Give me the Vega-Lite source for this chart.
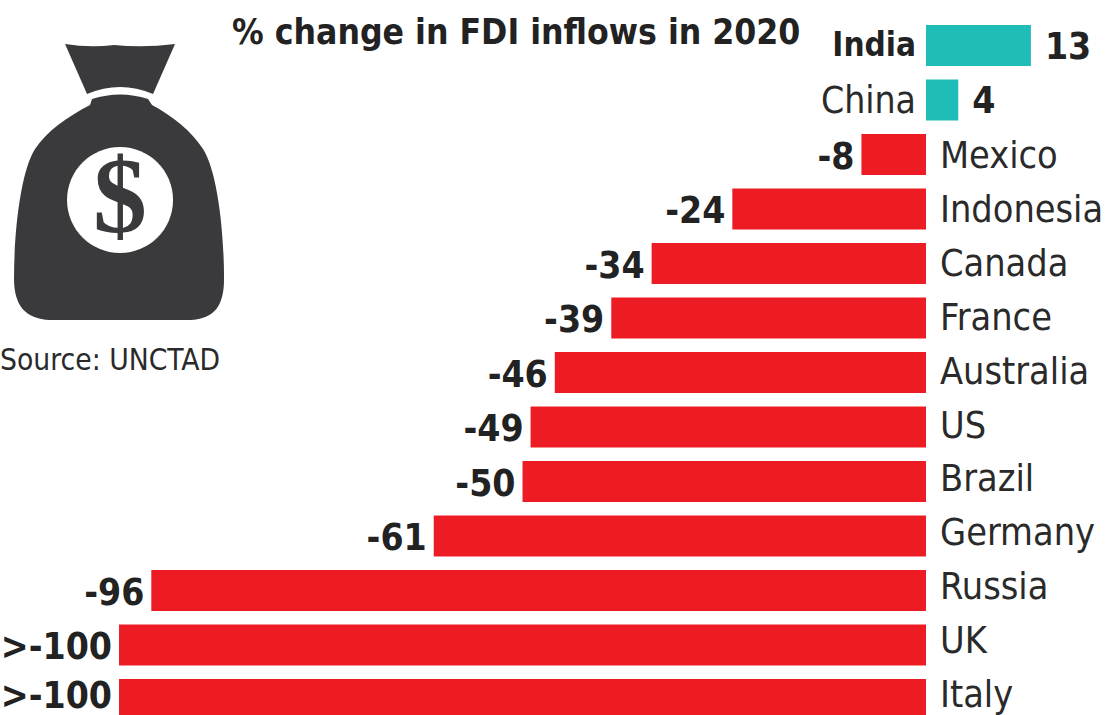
{
  "$schema": "https://vega.github.io/schema/vega-lite/v6.json",
  "width": 1112,
  "height": 715,
  "padding": 0,
  "autosize": {"type": "fit", "contains": "padding"},
  "background": "#ffffff",
  "config": {"view": {"stroke": null}},
  "resolve": {"scale": {"y": "independent"}},
  "datasets": {
    "fdi": [
      {"country": "India", "change": 13, "label": "13", "direction": "up"},
      {"country": "China", "change": 4, "label": "4", "direction": "up"},
      {"country": "Mexico", "change": -8, "label": "-8", "direction": "down"},
      {"country": "Indonesia", "change": -24, "label": "-24", "direction": "down"},
      {"country": "Canada", "change": -34, "label": "-34", "direction": "down"},
      {"country": "France", "change": -39, "label": "-39", "direction": "down"},
      {"country": "Australia", "change": -46, "label": "-46", "direction": "down"},
      {"country": "US", "change": -49, "label": "-49", "direction": "down"},
      {"country": "Brazil", "change": -50, "label": "-50", "direction": "down"},
      {"country": "Germany", "change": -61, "label": "-61", "direction": "down"},
      {"country": "Russia", "change": -96, "label": "-96", "direction": "down"},
      {"country": "UK", "change": -100, "label": ">-100", "direction": "down"},
      {"country": "Italy", "change": -100, "label": ">-100", "direction": "down"}
    ]
  },
  "data": {"name": "fdi"},
  "encoding": {
    "y": {
      "field": "country",
      "type": "nominal",
      "axis": null,
      "sort": null,
      "scale": {
        "domain": ["India", "China", "Mexico", "Indonesia", "Canada", "France", "Australia", "US", "Brazil", "Germany", "Russia", "UK", "Italy"],
        "range": [18.25, 726.75],
        "paddingInner": 0.245,
        "paddingOuter": 0.1225
      }
    }
  },
  "layer": [
    {
      "mark": {"type": "bar"},
      "encoding": {
        "x": {"field": "change", "type": "quantitative", "axis": null, "scale": {"domain": [-114.75, 23.05], "nice": false, "zero": false}},
        "color": {"field": "direction", "type": "nominal", "legend": null, "scale": {"domain": ["up", "down"], "range": ["#1fbcb8", "#ed1c24"]}}
      }
    },
    {
      "transform": [{"filter": "datum.direction === 'down' && datum.country !== 'Italy'"}],
      "mark": {"type": "text", "align": "right", "baseline": "middle", "dx": -7, "dy": 3, "font": "DejaVu Sans Condensed", "fontWeight": "bold", "fontSize": 37, "fill": "#222222"},
      "encoding": {
        "x": {"field": "change", "type": "quantitative"},
        "text": {"field": "label"}
      }
    },
    {
      "transform": [{"filter": "datum.country === 'Italy'"}],
      "mark": {"type": "text", "align": "right", "baseline": "middle", "dx": -7, "dy": -3, "font": "DejaVu Sans Condensed", "fontWeight": "bold", "fontSize": 37, "fill": "#222222"},
      "encoding": {
        "x": {"field": "change", "type": "quantitative"},
        "text": {"field": "label"}
      }
    },
    {
      "transform": [{"filter": "datum.direction === 'up'"}],
      "mark": {"type": "text", "align": "left", "baseline": "middle", "dx": 14, "dy": 2, "font": "DejaVu Sans Condensed", "fontWeight": "bold", "fontSize": 37, "fill": "#222222"},
      "encoding": {
        "x": {"field": "change", "type": "quantitative"},
        "text": {"field": "label"}
      }
    },
    {
      "transform": [{"filter": "datum.direction === 'down'"}],
      "mark": {"type": "text", "align": "left", "baseline": "middle", "dx": 14, "font": "DejaVu Sans Condensed", "fontSize": 37.5, "fill": "#2a2a2a"},
      "encoding": {
        "x": {"datum": 0},
        "y": {
          "field": "country",
          "type": "nominal",
          "axis": null,
          "sort": null,
          "scale": {
            "domain": ["India", "China", "Mexico", "Indonesia", "Canada", "France", "Australia", "US", "Brazil", "Germany", "Russia", "UK", "Italy"],
            "range": [22.25, 722.95],
            "paddingInner": 0.245,
            "paddingOuter": 0.1225
          }
        },
        "text": {"field": "country"}
      }
    },
    {
      "transform": [{"filter": "datum.country === 'China'"}],
      "mark": {"type": "text", "align": "right", "baseline": "middle", "dx": -10, "dy": 2, "font": "DejaVu Sans Condensed", "fontSize": 37, "fill": "#2a2a2a"},
      "encoding": {
        "x": {"datum": 0},
        "text": {"field": "country"}
      }
    },
    {
      "transform": [{"filter": "datum.country === 'India'"}],
      "mark": {"type": "text", "align": "right", "baseline": "middle", "dx": -10, "font": "DejaVu Sans Condensed", "fontWeight": "bold", "fontSize": 33, "fill": "#222222"},
      "encoding": {
        "x": {"datum": 0},
        "text": {"field": "country"}
      }
    },
    {
      "data": {"values": [{"country": "India", "at": -86, "caption": "% change in FDI inflows in 2020"}]},
      "mark": {"type": "text", "align": "left", "baseline": "middle", "dy": -13, "font": "DejaVu Sans Condensed", "fontWeight": "bold", "fontSize": 35.2, "fill": "#222222"},
      "encoding": {
        "x": {"field": "at", "type": "quantitative"},
        "text": {"field": "caption"}
      }
    },
    {
      "data": {"values": [{"country": "Australia", "at": -114.75, "caption": "Source: UNCTAD"}]},
      "mark": {"type": "text", "align": "left", "baseline": "middle", "dy": -12, "font": "DejaVu Sans Condensed", "fontSize": 29.7, "fill": "#2a2a2a"},
      "encoding": {
        "x": {"field": "at", "type": "quantitative"},
        "text": {"field": "caption"}
      }
    },
    {
      "data": {"values": [{"country": "Indonesia", "at": -100}]},
      "mark": {
        "type": "point",
        "filled": true,
        "opacity": 1,
        "size": 4,
        "strokeWidth": 0,
        "fill": "#3a3a3c",
        "shape": "M-54,-165 Q-29,-161 -5,-164 Q25,-161 56,-165 L34,-115 Q1,-129 -32,-115 Z M-27,-110 Q1,-119 29,-110 L33,-104 C55,-92 72,-78 84,-60 C98,-38 105,20 105,70 C105,96 96,110 71,111 L-69,111 C-94,110 -105,96 -105,70 C-105,20 -98,-38 -84,-60 C-72,-78 -52,-92 -29,-104 Z"
      },
      "encoding": {"x": {"field": "at", "type": "quantitative"}}
    },
    {
      "data": {"values": [{"country": "Indonesia", "at": -100}]},
      "mark": {
        "type": "point",
        "filled": true,
        "opacity": 1,
        "size": 4,
        "strokeWidth": 0,
        "fill": "#ffffff",
        "shape": "M-52,-9 A53,53 0 1,0 54,-9 A53,53 0 1,0 -52,-9 Z"
      },
      "encoding": {"x": {"field": "at", "type": "quantitative"}}
    },
    {
      "data": {"values": [{"country": "Indonesia", "at": -100, "glyph": "$"}]},
      "mark": {"type": "text", "align": "center", "baseline": "middle", "dx": 1, "dy": -9, "font": "Liberation Serif", "fontWeight": "bold", "fontSize": 108, "fill": "#3a3a3c"},
      "encoding": {
        "x": {"field": "at", "type": "quantitative"},
        "text": {"field": "glyph"}
      }
    }
  ]
}
